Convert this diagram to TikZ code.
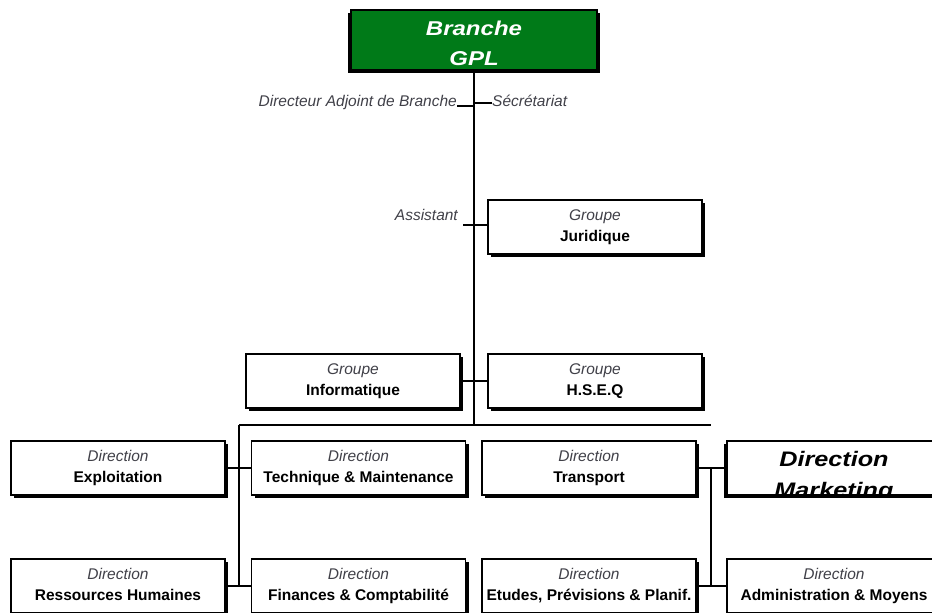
\documentclass[tikz,border=0pt]{standalone}
\usepackage{fontspec}
\setmainfont{Liberation Sans}
\usepackage{graphicx}
\usetikzlibrary{shadows}
\definecolor{gplgreen}{RGB}{0,122,24}
\definecolor{soft}{RGB}{64,64,72}
\begin{document}
\begin{tikzpicture}[x=1pt,y=-1pt,
    wire/.style = {draw=black,line width=1.2pt},
    unit/.style = {rectangle,draw=black,line width=1.2pt,fill=white,minimum width=214pt,minimum height=54pt,
                   inner sep=0pt,align=center,font=\fontsize{15.5}{21}\selectfont,
                   drop shadow={shadow xshift=3pt,shadow yshift=-3pt,fill=black,opacity=1}},
    lunit/.style = {unit,drop shadow={shadow xshift=-3pt,shadow yshift=-3pt,fill=black,opacity=1}},
    role/.style = {inner sep=0pt,font=\fontsize{15.5}{18}\selectfont\itshape,text=soft}]
\useasboundingbox (0,0) rectangle (932,613);
\clip (0,0) rectangle (932,613);

% head of the branch
\node[lunit,fill=gplgreen,minimum width=246pt,minimum height=60pt,text=white,
      font=\fontsize{20}{30}\selectfont\bfseries\itshape] (gpl) at (474,40)
      {\raisebox{-4pt}{\scalebox{1.2}[1]{Branche}}\strut\\\raisebox{-4pt}{\scalebox{1.2}[1]{GPL}}\strut};

\node[role,anchor=base east] (dir) at (457,106) {Directeur Adjoint de Branche};
\node[role,anchor=base west] (sec) at (492,106) {Sécrétariat};
\node[role,anchor=base east] (asst) at (458,220) {Assistant};

% groups
\foreach \nm/\x/\y/\what in {jur/595/227/Juridique, info/353/381/Informatique, hseq/595/381/H.S.E.Q}
    \node[unit] (\nm) at (\x,\y) {{\itshape\color{soft}Groupe}\strut\\\textbf{\what}\strut};

% directions
\foreach \nm/\x/\y/\what in {expl/118/468/Exploitation, tech/358.5/468/{Technique \& Maintenance},
                             trans/589/468/Transport,
                             rh/118/586/{Ressources Humaines}, fin/358.5/586/{Finances \& Comptabilité},
                             etud/589/586/{Etudes, Prévisions \& Planif.}, adm/834/586/{Administration \& Moyens}}
    \node[unit] (\nm) at (\x,\y) {{\itshape\color{soft}Direction}\strut\\\textbf{\what}\strut};

\node[lunit] (mkt) at (834,468) {};
\begin{scope}
    \clip (mkt.north west) rectangle (mkt.south east);
    \foreach \nm/\y/\what in {mkta/466/Direction, mktb/497/Marketing}
        \node[anchor=base,inner sep=0pt,font=\fontsize{21}{21}\selectfont\bfseries\itshape] (\nm) at (834,\y)
            {\scalebox{1.2}[1]{\what}};
\end{scope}
\draw[line width=1.2pt] (mkt.south west) -- (mkt.south east);

% links
\coordinate (hub) at (474,425);
\coordinate (lbus) at (239,425);
\coordinate (rbus) at (711,425);
\coordinate (jsec) at (474,103);
\coordinate (jasst) at (463,225);
\draw[wire] (gpl.south) -- (hub);
\draw[wire] (lbus) -- (rbus);
\draw[wire] (dir.base east) -- (dir.base east -| hub);
\draw[wire] (jsec) -- (jsec -| sec.base west);
\draw[wire] (jasst) -- (jasst -| jur.west);
\draw[wire] (info.east) -- (hseq.west);
\draw[wire] (lbus) -- (lbus |- fin.west);
\draw[wire] (expl.east) -- (tech.west);
\draw[wire] (rh.east) -- (fin.west);
\draw[wire] (rbus |- trans.east) -- (rbus |- etud.east);
\draw[wire] (trans.east) -- (mkt.west);
\draw[wire] (etud.east) -- (adm.west);
\end{tikzpicture}
\end{document}
